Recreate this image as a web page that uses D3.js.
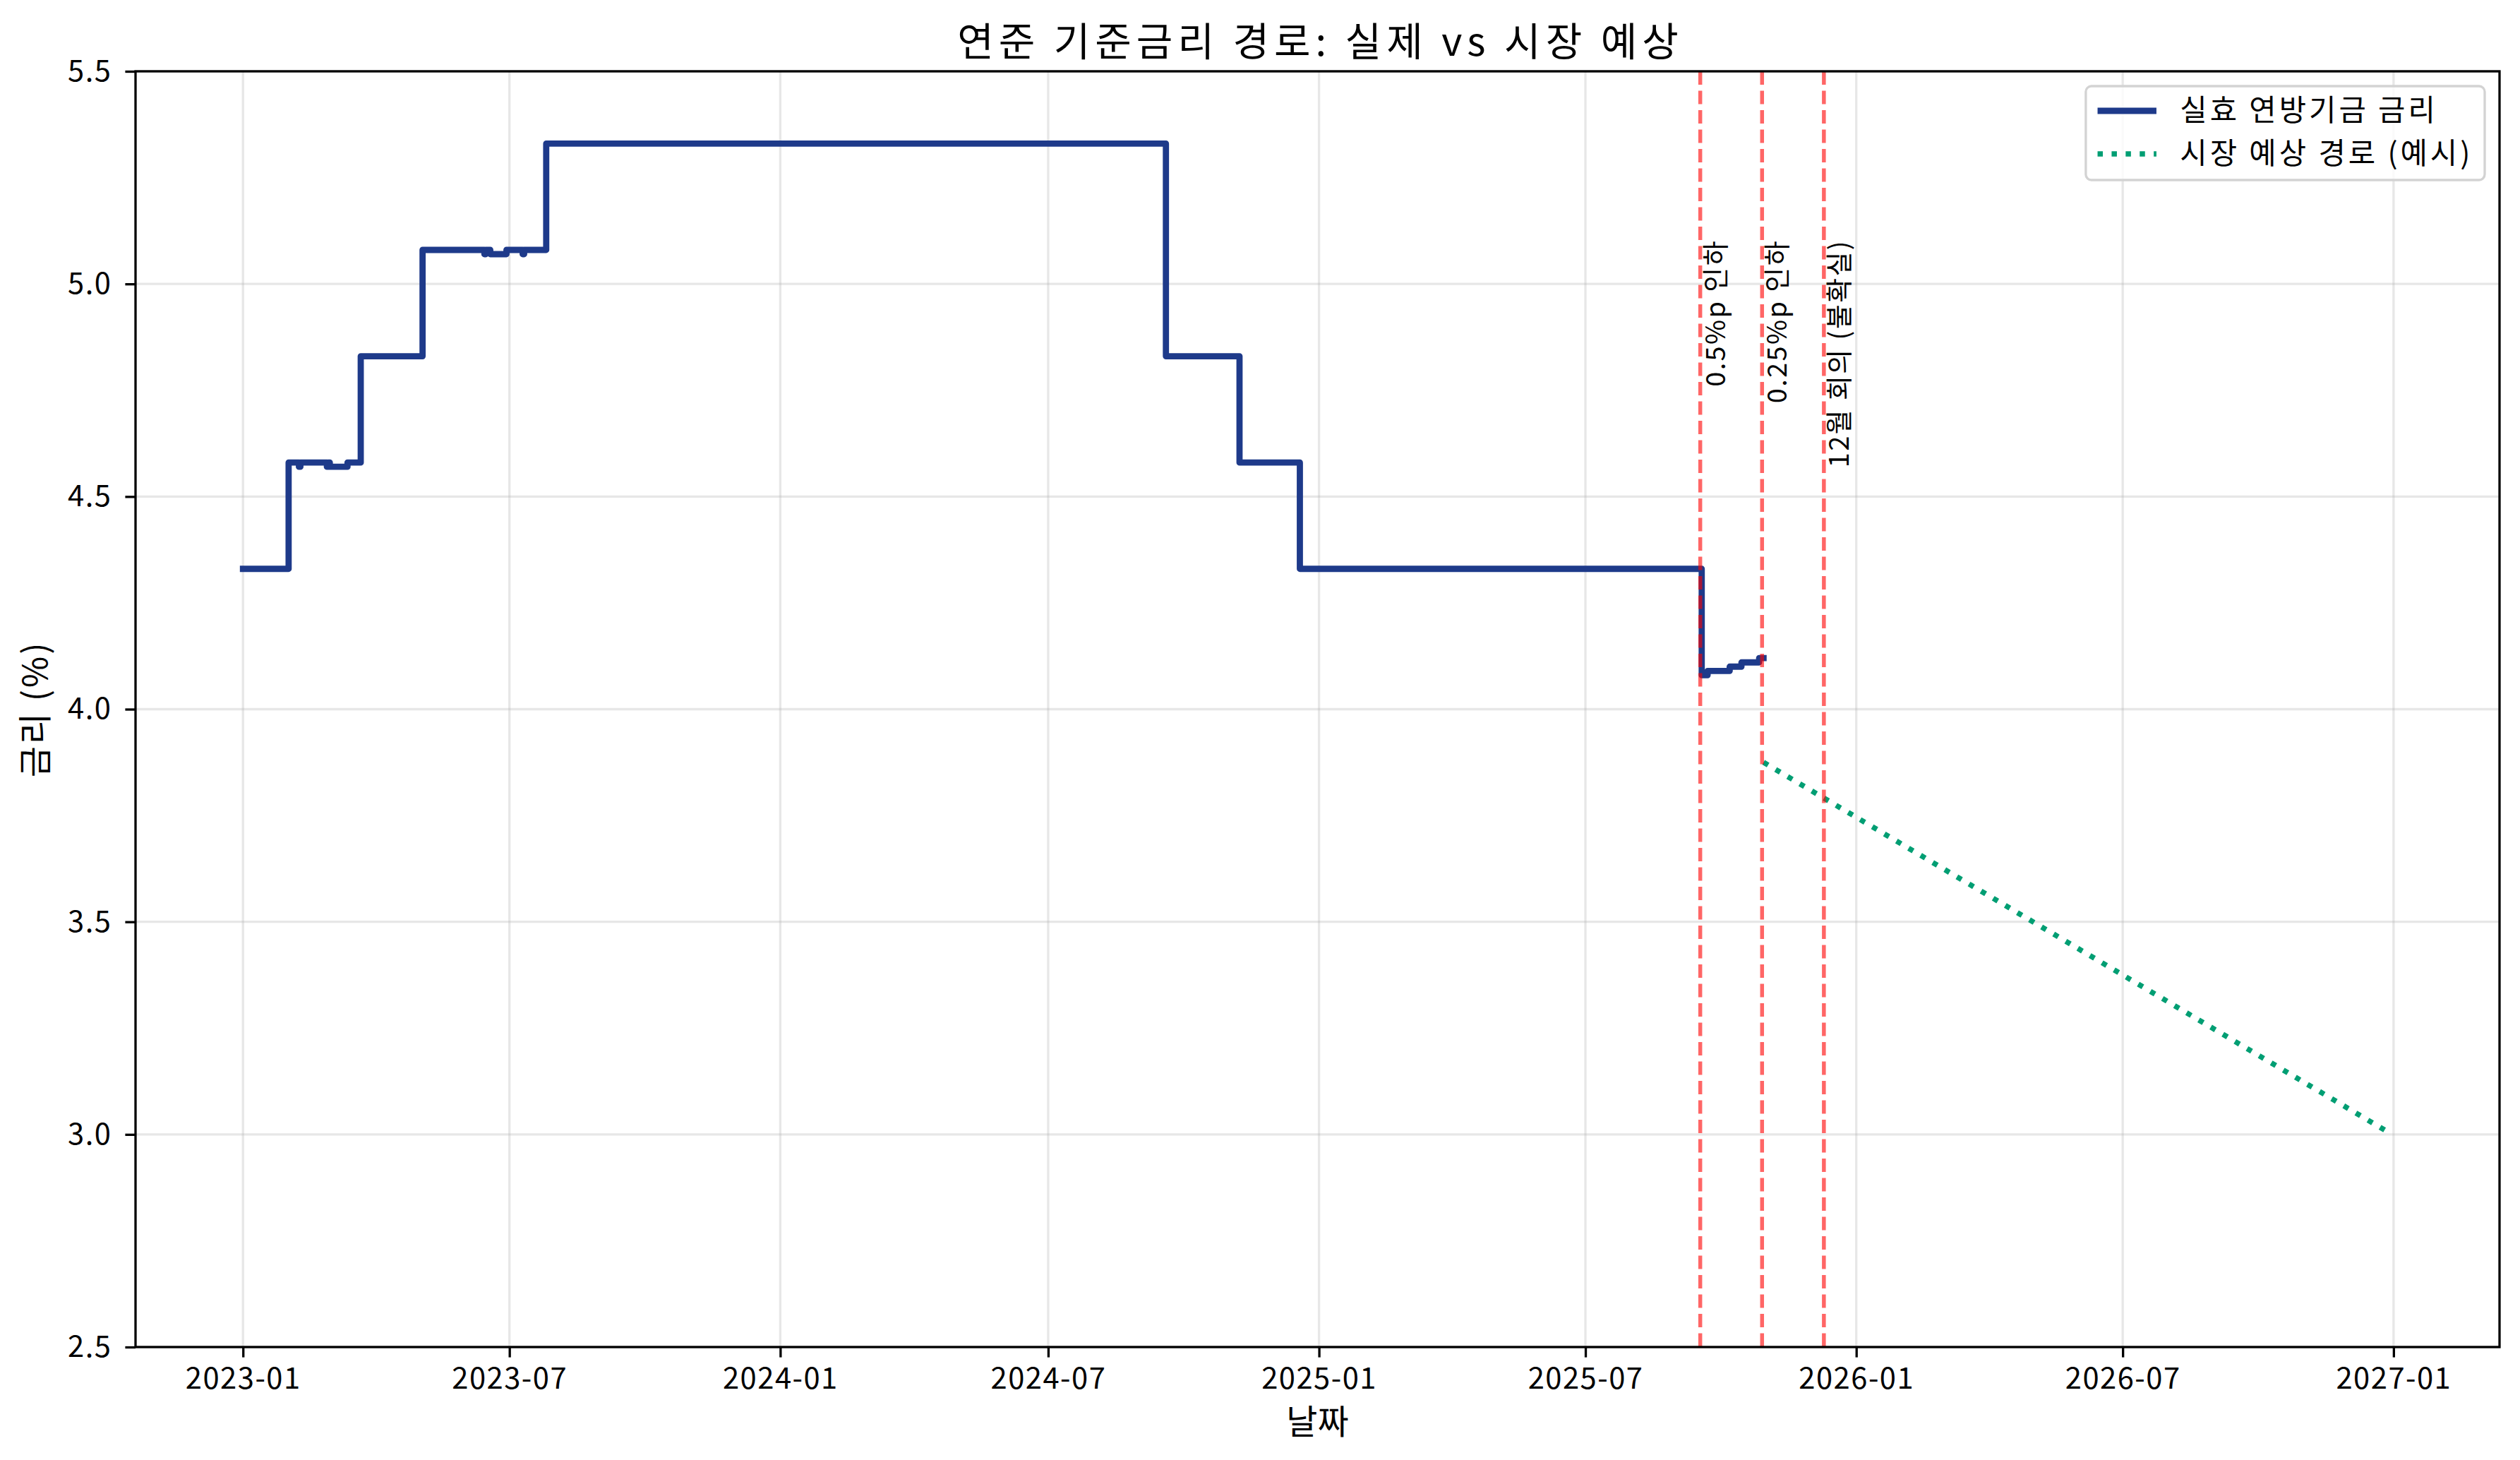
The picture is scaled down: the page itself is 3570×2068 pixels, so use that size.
<!DOCTYPE html>
<html>
<head>
<meta charset="utf-8">
<script src="https://cdn.jsdelivr.net/npm/d3@7"></script>
<style>
  body { margin: 0; background: #fff; }
  text { font-family: "Noto Sans CJK KR", "Noto Sans", sans-serif; }
</style>
</head>
<body>
<div id="plt"></div>
<script>
// effective fed funds rate, as change points (each value holds until the next date)
var effrDates = ["2023-01-01", "2023-02-01", "2023-02-08", "2023-02-09", "2023-02-27", "2023-02-28",
                 "2023-03-01", "2023-03-13", "2023-03-22", "2023-05-03", "2023-06-14", "2023-06-15",
                 "2023-06-18", "2023-06-29", "2023-07-10", "2023-07-11", "2023-07-26", "2024-09-19",
                 "2024-11-08", "2024-12-19", "2025-09-18", "2025-09-22", "2025-10-07", "2025-10-15",
                 "2025-10-27", "2025-10-30"];
var effrValues = [4.33, 4.58, 4.57, 4.58, 4.57, 4.58,
                  4.57, 4.58, 4.83, 5.08, 5.07, 5.08,
                  5.07, 5.08, 5.07, 5.08, 5.33, 4.83,
                  4.58, 4.33, 4.08, 4.09, 4.10, 4.11,
                  4.12, 4.12];

// market expected path (example)
var marketDates = ["2025-10-30", "2026-12-31"];
var marketValues = [3.875, 3.0];

// fomc meetings
var meetingDates = ["2025-09-17", "2025-10-29", "2025-12-10"];
var meetingLabels = ["0.5%p 인하", "0.25%p 인하", "12월 회의 (불확실)"];
var meetingLabelY = 5.11;

var yTicks = [2.5, 3.0, 3.5, 4.0, 4.5, 5.0, 5.5];
var xTicks = ["2023-01-01", "2023-07-01", "2024-01-01", "2024-07-01", "2025-01-01",
              "2025-07-01", "2026-01-01", "2026-07-01", "2027-01-01"];

var seriesNames = ["실효 연방기금 금리", "시장 예상 경로 (예시)"];
var titleText = "연준 기준금리 경로: 실제 vs 시장 예상";
var xLabelText = "날짜";
var yLabelText = "금리 (%)";

var blue = "#1e3a8a", green = "#009e73";

// set the dimensions and margins of the plot
var W = 3570, H = 2068;
var margin = {top: 101, right: 29, bottom: 160, left: 192};
var width = W - margin.left - margin.right;
var height = H - margin.top - margin.bottom;

var parse = d3.timeParse("%Y-%m-%d");

var svg = d3.select("#plt")
            .append("svg")
            .attr("width", W)
            .attr("height", H)
            .style("display", "block");

var g = svg.append("g")
           .attr("transform", "translate(" + margin.left + "," + margin.top + ")");

// x scale with 5% padding like matplotlib
var t0 = parse(effrDates[0]), t1 = parse(marketDates[marketDates.length - 1]);
var pad = (t1 - t0) * 0.05;
var x = d3.scaleTime()
          .domain([new Date(+t0 - pad), new Date(+t1 + pad)])
          .range([0, width]);

var y = d3.scaleLinear()
          .domain([2.5, 5.5])
          .range([height, 0]);

// grid
g.append("g").selectAll("line")
 .data(xTicks.map(parse))
 .enter().append("line")
 .attr("x1", function(d) { return x(d); })
 .attr("x2", function(d) { return x(d); })
 .attr("y1", 0).attr("y2", height)
 .attr("stroke", "#b0b0b0").attr("stroke-opacity", 0.3).attr("stroke-width", 3.3);

g.append("g").selectAll("line")
 .data(yTicks)
 .enter().append("line")
 .attr("x1", 0).attr("x2", width)
 .attr("y1", function(d) { return y(d); })
 .attr("y2", function(d) { return y(d); })
 .attr("stroke", "#b0b0b0").attr("stroke-opacity", 0.3).attr("stroke-width", 3.3);

// effr line
var effr = effrDates.map(function(d, i) { return {date: parse(d), value: effrValues[i]}; });
var stepLine = d3.line()
                 .x(function(d) { return x(d.date); })
                 .y(function(d) { return y(d.value); })
                 .curve(d3.curveStepAfter);

g.append("path")
 .datum(effr)
 .attr("d", stepLine)
 .attr("fill", "none")
 .attr("stroke", blue)
 .attr("stroke-width", 8.8)
 .attr("stroke-linejoin", "round")
 .attr("stroke-linecap", "square");

// market path
var market = marketDates.map(function(d, i) { return {date: parse(d), value: marketValues[i]}; });
var line = d3.line()
             .x(function(d) { return x(d.date); })
             .y(function(d) { return y(d.value); });

g.append("path")
 .datum(market)
 .attr("d", line)
 .attr("fill", "none")
 .attr("stroke", green)
 .attr("stroke-width", 7.5)
 .attr("stroke-dasharray", "7.5,12.4");

// meeting lines + labels
var meetings = meetingDates.map(function(d, i) { return {date: parse(d), label: meetingLabels[i]}; });

g.append("g").selectAll("line")
 .data(meetings)
 .enter().append("line")
 .attr("x1", function(d) { return x(d.date); })
 .attr("x2", function(d) { return x(d.date); })
 .attr("y1", 0).attr("y2", height)
 .attr("stroke", "red").attr("stroke-opacity", 0.6)
 .attr("stroke-width", 5.5)
 .attr("stroke-dasharray", "19,8.5");

g.append("g").selectAll("text")
 .data(meetings)
 .enter().append("text")
 .attr("transform", function(d) {
   return "translate(" + (x(d.date) + 35) + "," + (y(meetingLabelY) + 3) + ") rotate(-90)";
 })
 .attr("text-anchor", "end")
 .attr("font-size", 38)
 .attr("letter-spacing", 2.4)
 .attr("fill", "#000")
 .text(function(d) { return d.label; });

// axes
var xAxis = g.append("g")
             .attr("transform", "translate(0," + height + ")")
             .call(d3.axisBottom(x)
                     .tickValues(xTicks.map(parse))
                     .tickFormat(d3.timeFormat("%Y-%m"))
                     .tickSize(14.6)
                     .tickSizeOuter(0)
                     .tickPadding(15));
var yAxis = g.append("g")
             .call(d3.axisLeft(y)
                     .tickValues(yTicks)
                     .tickFormat(d3.format(".1f"))
                     .tickSize(14.6)
                     .tickSizeOuter(0)
                     .tickPadding(19));

[xAxis, yAxis].forEach(function(a) {
  a.attr("font-family", null).attr("font-size", 41.7);
  a.select(".domain").remove();
  a.selectAll(".tick line").attr("stroke", "#000").attr("stroke-width", 3.3);
  a.selectAll(".tick text").attr("fill", "#000").attr("letter-spacing", 1.5);
});

// frame
g.append("rect")
 .attr("width", width).attr("height", height)
 .attr("fill", "none")
 .attr("stroke", "#000")
 .attr("stroke-width", 3.3);

// title and labels
svg.append("text")
   .attr("x", margin.left + width / 2 + 4)
   .attr("y", 79)
   .attr("text-anchor", "middle")
   .attr("font-size", 56)
   .attr("letter-spacing", 7)
   .text(titleText);

svg.append("text")
   .attr("x", margin.left + width / 2)
   .attr("y", 2031)
   .attr("text-anchor", "middle")
   .attr("font-size", 48)
   .text(xLabelText);

svg.append("text")
   .attr("transform", "translate(67," + (margin.top + height / 2) + ") rotate(-90)")
   .attr("text-anchor", "middle")
   .attr("font-size", 48)
   .attr("letter-spacing", 3)
   .text(yLabelText);

// legend, upper right
var fs = 41.7;
var leg = g.append("g");
var legBox = leg.append("rect")
                .attr("fill", "#fff")
                .attr("fill-opacity", 0.8)
                .attr("stroke", "#d3d3d3")
                .attr("stroke-width", 3.3)
                .attr("rx", 8).attr("ry", 8);

var rows = leg.selectAll("g.row")
              .data(seriesNames)
              .enter().append("g")
              .attr("class", "row")
              .attr("transform", function(d, i) { return "translate(0," + (i * 61) + ")"; });

rows.append("line")
    .attr("x1", 0.4 * fs).attr("x2", 2.4 * fs)
    .attr("y1", 0).attr("y2", 0)
    .attr("stroke", function(d, i) { return i === 0 ? blue : green; })
    .attr("stroke-width", function(d, i) { return i === 0 ? 8.8 : 7.5; })
    .attr("stroke-dasharray", function(d, i) { return i === 0 ? null : "7.5,12.4"; });

var labels = rows.append("text")
                 .attr("x", 3.2 * fs)
                 .attr("y", 14)
                 .attr("font-size", fs)
                 .attr("letter-spacing", 4)
                 .text(function(d) { return d; });

var maxW = 0;
labels.each(function() { maxW = Math.max(maxW, this.getComputedTextLength()); });
var boxW = 3.2 * fs + maxW + 0.4 * fs;
var boxH = 133;
legBox.attr("x", 0).attr("y", -35).attr("width", boxW).attr("height", boxH);
leg.attr("transform", "translate(" + (width - 21 - boxW) + "," + (21 + 35) + ")");
</script>
</body>
</html>
